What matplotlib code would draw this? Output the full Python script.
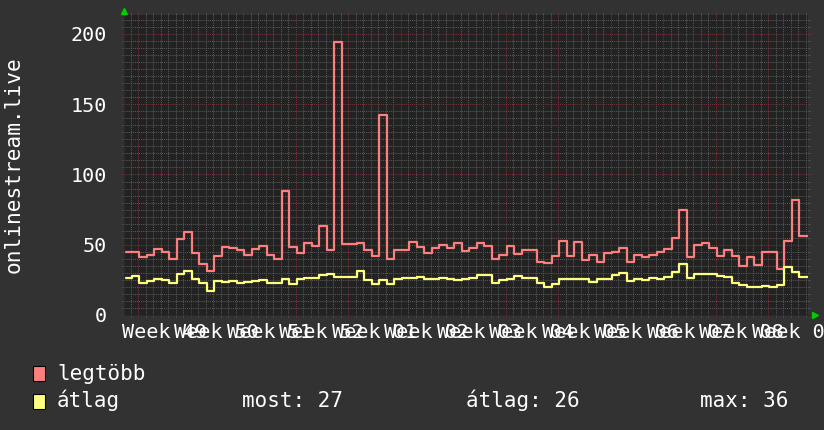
import numpy as np
import matplotlib.pyplot as plt
from matplotlib.patches import Rectangle

# daily values, one per step (91 days)
legtobb = [45, 45, 41, 43, 47, 45, 40, 54, 59, 44,
           36, 31.5, 42, 48.5, 48, 46, 43, 47, 49, 43,
           39.5, 88.5, 48.5, 44, 51.5, 49, 63, 46.5, 194, 50.5,
           50.5, 51.5, 46, 42, 142, 40, 46, 46.5, 52, 48.5,
           44, 47.5, 50, 47.5, 51, 45.5, 47.5, 51, 49, 40,
           42.5, 49, 43.5, 46, 46, 38, 37, 42, 53, 42,
           52, 39, 43, 38, 44, 44.5, 48, 38, 43, 41,
           43, 44.5, 47, 55, 75, 41, 49.5, 51, 47.5, 42,
           46.5, 42, 35, 41.5, 35.5, 45, 45, 33, 53, 82, 56]
atlag = [26.6, 28, 23, 24.4, 25.6, 25, 23, 29, 31.3, 25.6,
         22.5, 17.3, 24.4, 23.7, 24.4, 22.5, 23.7, 24.4, 25, 23,
         23, 25.4, 22, 25.4, 26.3, 26.3, 28.5, 29.2, 27.3, 26.8,
         26.8, 31.3, 25, 22, 25, 22, 25.4, 26, 26.5, 27.3,
         25.8, 25.4, 26.3, 25.6, 24.9, 25.8, 26.6, 28.5, 28.5, 23,
         24.9, 25.4, 27.5, 26.6, 26.6, 22.5, 20.2, 22, 25.4, 25.6,
         25.8, 25.6, 23.7, 25.4, 25.8, 28.5, 29.6, 24.4, 25.4, 24.9,
         26.6, 25.4, 27.3, 30.8, 36, 26.1, 29.2, 29.2, 29.2, 27.7,
         27.3, 23, 21.4, 20.2, 20.2, 20.6, 19.7, 21.4, 34, 30.8, 27]

week_labels = ['Week 49', 'Week 50', 'Week 51', 'Week 52', 'Week 01', 'Week 02',
               'Week 03', 'Week 04', 'Week 05', 'Week 06', 'Week 07', 'Week 08',
               'Week 09']
y_ticks = [0, 50, 100, 150, 200]

BG = '#323232'
CANVAS = '#222222'
RED = '#ff7f7f'
YEL = '#ffff7f'
MINOR = '#585858'
MAJOR = '#743232'
FONT = 'DejaVu Sans Mono'

W, H = 824, 430
fig = plt.figure(figsize=(W / 100, H / 100), dpi=100, facecolor=BG)
ax = fig.add_axes([124 / W, 1 - 315 / H, 684 / W, 300 / H])
ax.set_facecolor(CANVAS)

n = len(legtobb)
xs = np.arange(n + 1)
ax.step(xs, legtobb + [legtobb[-1]], where='post', color=RED, lw=1.6)
ax.step(xs, atlag + [atlag[-1]], where='post', color=YEL, lw=1.6)

xmax = 91.2
ax.set_xlim(0, xmax)
ax.set_ylim(0, 213.5)

week_x = np.arange(1.867, xmax, 7)
day_x = np.arange(0.867, xmax, 1)
ax.set_xticks(week_x)
ax.set_xticks(day_x, minor=True)
ax.set_yticks(y_ticks)
ax.set_yticks(np.arange(0, 213, 5), minor=True)
ax.set_yticklabels([str(v) for v in y_ticks], fontsize=14.5, family=FONT, color='white')
ax.set_xticklabels([])

ax.grid(which='minor', color=MINOR, lw=0.75, linestyle=(0, (1, 1)))
ax.grid(which='major', color=MAJOR, lw=0.75, linestyle=(0, (1, 1)))
ax.set_axisbelow(True)
ax.tick_params(which='minor', direction='out', length=1.5, width=0.75, color=MINOR,
               top=True, right=True)
ax.tick_params(which='major', direction='out', length=1.5, width=0.75, color=MAJOR,
               top=True, right=True, pad=10.8)
for s in ax.spines.values():
    s.set_visible(False)

# axis lines with green arrows, rrdtool style
ax.plot([0, 0], [0, 1.01], transform=ax.transAxes, color='#2a2a2a', lw=1, clip_on=False)
ax.plot([0, 1.01], [0, 0], transform=ax.transAxes, color='#2a2a2a', lw=1, clip_on=False)
ax.plot([0], [1.0 + 4 / 300], marker='^', ms=5, color='#00cc00', transform=ax.transAxes, clip_on=False)
ax.plot([1.0 + 7 / 684], [0], marker='>', ms=5, color='#00cc00', transform=ax.transAxes, clip_on=False)

# week labels sit in the middle of each week
for lx, lab in zip(week_x + 3.5, week_labels):
    ax.text(lx, -8 / 300, lab, transform=ax.get_xaxis_transform(), ha='center', va='top',
            fontsize=14.5, family=FONT, color='white', clip_on=False)

fig.text(13.5 / W, 1 - 165 / H, 'onlinestream.live', rotation=90, ha='center', va='center',
         fontsize=15.2, family=FONT, color='white')


def fx(x):
    return x / W


def fy(y):
    return 1 - y / H


fig.add_artist(Rectangle((fx(33), fy(381)), 12 / W, 15 / H, transform=fig.transFigure,
                         facecolor=RED, edgecolor='black', lw=0.8))
fig.add_artist(Rectangle((fx(33), fy(409)), 12 / W, 15 / H, transform=fig.transFigure,
                         facecolor=YEL, edgecolor='black', lw=0.8))
fig.text(fx(57), fy(380), 'legtöbb', fontsize=15, family=FONT, color='white', va='baseline')
fig.text(fx(57), fy(407), 'átlag', fontsize=15, family=FONT, color='white', va='baseline')
fig.text(fx(242), fy(407), f'most: {atlag[-1]:.0f}', fontsize=15, family=FONT, color='white', va='baseline')
fig.text(fx(466), fy(407), f'átlag: {np.mean(atlag):.0f}', fontsize=15, family=FONT, color='white', va='baseline')
fig.text(fx(700), fy(407), f'max: {max(atlag):.0f}', fontsize=15, family=FONT, color='white', va='baseline')

fig.savefig('out.png', dpi=100, facecolor=BG)
